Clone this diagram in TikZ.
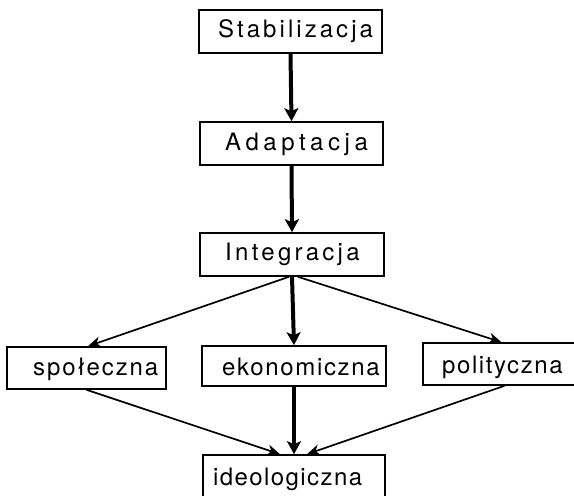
\documentclass[tikz,border=0pt]{standalone}
\usepackage{fontspec}
\setmainfont{TeX Gyre Heros}
\usetikzlibrary{arrows.meta}
\tikzset{
  box/.style={draw, line width=1.6pt, inner sep=0pt},
  lbl/.style={anchor=base west, inner sep=0pt, font=\fontsize{24}{28}\selectfont},
  thick arrow/.style={line width=4pt, -{Stealth[length=13pt,width=14pt,inset=3pt]}},
  thin arrow/.style={line width=1.7pt, -{Stealth[length=13pt,width=11pt,inset=4pt]}}
}
\newcommand{\ls}[2]{{\addfontfeature{LetterSpace=#1}#2}}
\begin{document}
\begin{tikzpicture}[x=1pt,y=-1pt]
\clip (0,0) rectangle (574,496);
\fill[white] (0,0) rectangle (574,496);
% boxes
\node[box, minimum width=183pt, minimum height=43pt] (stab) at (290.5,31.5) {};
\node[box, minimum width=183pt, minimum height=43pt] (adap) at (291.5,143.5) {};
\node[box, minimum width=184pt, minimum height=43pt] (integ) at (292,254.5) {};
\node[box, minimum width=159pt, minimum height=42pt] (spol) at (86.5,368) {};
\node[box, minimum width=184pt, minimum height=40pt] (ekon) at (294,366) {};
\node[box, minimum width=157pt, minimum height=42pt] (polit) at (501.5,364) {};
\node[box, minimum width=182pt, minimum height=60pt] (ideo) at (294,485) {};
% labels
\node[lbl] (tstab) at (218,37) {\ls{12.7}{Stabilizacja}};
\node[lbl] (tadap) at (225,150) {\ls{18.9}{Adaptacja}};
\node[lbl] (tinteg) at (225,260) {\ls{13.7}{Integracja}};
\node[lbl] (tspol) at (33,375) {\ls{7.8}{społeczna}};
\node[lbl] (tekon) at (222,375) {\ls{6.9}{ekonomiczna}};
\node[lbl] (tpolit) at (442,373) {\ls{6.6}{polityczna}};
\node[lbl] (tideo) at (213,485) {\ls{5.9}{ideologiczna}};
% connectors
\draw[thick arrow] (stab.south) -- (adap.north);
\draw[thick arrow] (adap.south) -- (integ.north);
\draw[thick arrow] (integ.south) -- (ekon.north);
\draw[thin arrow] ([xshift=-3pt]integ.south) -- ([xshift=1.5pt]spol.north);
\draw[thin arrow] ([xshift=6pt]integ.south) -- (polit.north);
\draw[thin arrow] (spol.south) -- ([xshift=-14pt]ideo.north);
\draw[thick arrow] (ekon.south) -- (ideo.north);
\draw[thin arrow] ([xshift=3pt]polit.south) -- ([xshift=13pt]ideo.north);
\end{tikzpicture}
\end{document}
